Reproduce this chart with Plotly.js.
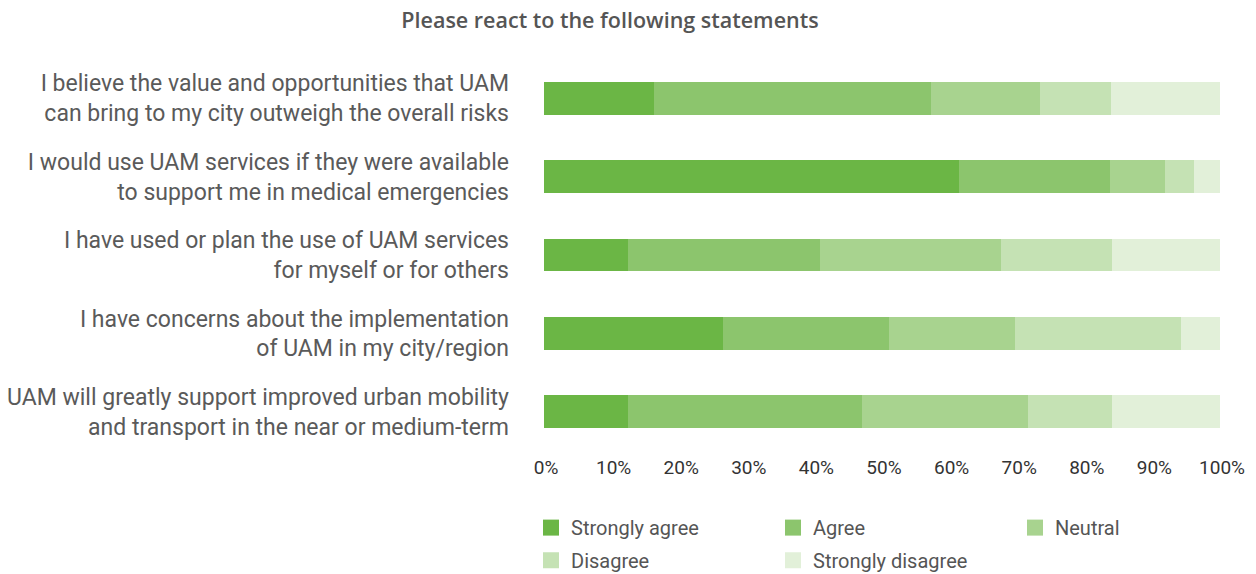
<!DOCTYPE html>
<html>
<head>
<meta charset="utf-8">
<script src="https://cdn.plot.ly/plotly-3.0.1.min.js"></script>
<style>html,body{margin:0;padding:0;background:#fff;}#chart{width:1256px;height:574px;}</style>
</head>
<body>
<div id="chart"></div>
<script>
var categories = [
  "I believe the value and opportunities that UAM<br>can bring to my city outweigh the overall risks",
  "I would use UAM services if they were available<br>to support me in medical emergencies",
  "I have used or plan the use of UAM services<br>for myself or for others",
  "I have concerns about the implementation<br>of UAM in my city/region",
  "UAM will greatly support improved urban mobility<br>and transport in the near or medium-term"
];
var seriesNames = ["Strongly agree", "Agree", "Neutral", "Disagree", "Strongly disagree"];
var stronglyAgree    = [16.2, 61.4, 12.4, 26.5, 12.4];
var agree            = [41.0, 22.3, 28.4, 24.5, 34.6];
var neutral          = [16.2,  8.2, 26.8, 18.6, 24.6];
var disagree         = [10.5,  4.2, 16.4, 24.6, 12.4];
var stronglyDisagree = [16.1,  3.9, 16.0,  5.8, 16.0];
var xTickVals = [0, 10, 20, 30, 40, 50, 60, 70, 80, 90, 100];
var xTickText = ["0%", "10%", "20%", "30%", "40%", "50%", "60%", "70%", "80%", "90%", "100%"];
var colors = ["#6bb645", "#8cc56d", "#a8d38f", "#c5e2b4", "#e2f0d9"];
var seriesValues = [stronglyAgree, agree, neutral, disagree, stronglyDisagree];

var FONT = "Roboto, 'Noto Sans', sans-serif";
var traces = [];
seriesValues.forEach(function (vals, i) {
  traces.push({
    type: "bar",
    orientation: "h",
    name: seriesNames[i],
    x: vals,
    y: categories,
    marker: { color: colors[i], line: { width: 0 } },
    showlegend: false,
    hoverinfo: "x+name"
  });
});
seriesValues.forEach(function (vals, i) {
  var t = {
    type: "scatter",
    mode: "markers",
    name: seriesNames[i],
    x: [null],
    y: [null],
    marker: { symbol: "square", size: 16, color: colors[i] },
    legend: i < 3 ? "legend" : "legend2",
    hoverinfo: "skip"
  };
  if (i === 2) t.legendwidth = 100;
  if (i === 4) t.legendwidth = 180;
  traces.push(t);
});

var legendCommon = {
  orientation: "h",
  xanchor: "left",
  yanchor: "top",
  xref: "container",
  yref: "container",
  traceorder: "normal",
  entrywidth: 197,
  entrywidthmode: "pixels",
  itemsizing: "trace",
  font: { family: FONT, size: 20, color: "#555555" },
  bgcolor: "rgba(0,0,0,0)",
  tracegroupgap: 0
};

var layout = {
  width: 1256,
  height: 574,
  paper_bgcolor: "#ffffff",
  plot_bgcolor: "#ffffff",
  margin: { l: 544, r: 36, t: 59, b: 123 },
  barmode: "stack",
  bargap: 0.58,
  font: { family: FONT, color: "#555555" },
  title: {
    text: "Please react to the following statements",
    font: { family: "'Open Sans', 'Noto Sans', sans-serif", size: 21.5, weight: 600, color: "#555555" },
    x: 610 / 1256, xanchor: "center", xref: "container",
    y: 1 - 20 / 574, yanchor: "middle", yref: "container"
  },
  xaxis: {
    range: [0, 100],
    tickvals: xTickVals,
    ticktext: xTickText,
    showgrid: false,
    zeroline: false,
    showline: false,
    ticks: "",
    ticklabelstandoff: 3,
    ticklabelshift: 2,
    tickfont: { family: FONT, size: 19, color: "#333333" },
    fixedrange: true
  },
  yaxis: {
    autorange: "reversed",
    showgrid: false,
    zeroline: false,
    showline: false,
    ticks: "",
    ticklabelstandoff: 34,
    tickfont: { family: FONT, size: 23, color: "#5a5a5a" },
    fixedrange: true
  },
  legend: Object.assign({}, legendCommon, { x: 531 / 1256, y: 0.1148 }),
  legend2: Object.assign({}, legendCommon, { x: 531 / 1256, y: 0.0578 })
};

Plotly.newPlot("chart", traces, layout, { displayModeBar: false, staticPlot: true });
</script>
</body>
</html>
